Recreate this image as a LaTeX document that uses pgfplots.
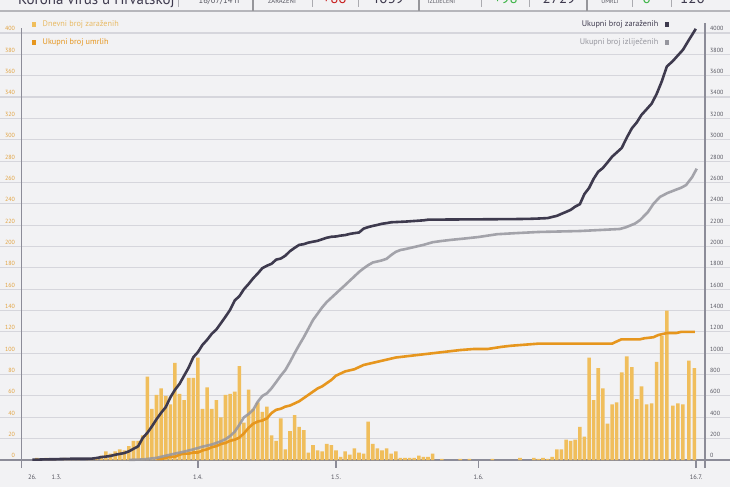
\documentclass[border=0pt]{standalone}
\usepackage{pgfplots}
\pgfplotsset{compat=1.18}
\usepackage{fontspec}
\setmainfont{PT Sans}

\definecolor{bgc}{RGB}{242,242,244}
\definecolor{gridc}{RGB}{214,214,220}
\definecolor{axc}{RGB}{140,140,152}
\definecolor{barc}{RGB}{240,190,92}
\definecolor{deathc}{RGB}{230,150,30}
\definecolor{casec}{RGB}{62,58,78}
\definecolor{recc}{RGB}{150,150,158}
\definecolor{ltc}{RGB}{226,162,62}
\definecolor{rtc}{RGB}{85,85,95}
\definecolor{legbar}{RGB}{232,186,100}
\definecolor{hred}{RGB}{200,30,30}
\definecolor{hgreen}{RGB}{60,180,70}

\begin{document}
\begin{tikzpicture}[x=1pt,y=1pt]
\useasboundingbox (0,0) rectangle (730,487);
\clip (0,0) rectangle (730,487);
\fill[bgc] (0,0) rectangle (730,487);

% grid lines over the full width
\foreach \k in {1,...,20}{
  \draw[gridc, line width=1.1pt] (0,{27+21.35*\k}) -- (730,{27+21.35*\k});
}
\draw[axc, line width=1.2pt] (0,27) -- (730,27);

% header (cut off at the top)
\draw[gridc!85!black, line width=1.4pt] (0,476) -- (730,476);
\foreach \xx in {178,312,358,481,529,632,671}{
  \draw[gridc!80!black, line width=1pt] (\xx,487) -- (\xx,480);
}
\foreach \xx in {253,419,587}{
  \draw[gridc!70!black, line width=1.6pt] (\xx,487) -- (\xx,476);
}
\node[anchor=base west, inner sep=0pt, text=casec, font=\fontsize{15}{16}\selectfont] at (18,482) {Korona virus u Hrvatskoj};
\node[anchor=base, inner sep=0pt, text=rtc, font=\fontsize{8.5}{10}\selectfont] at (219,483.5) {16/07/14 h};
\node[anchor=base, inner sep=0pt, text=rtc, font=\fontsize{6.5}{7}\selectfont] at (282,483) {ZARAŽENI};
\node[anchor=base, inner sep=0pt, text=hred, font=\fontsize{15}{17}\selectfont] at (334.7,483) {+86};
\node[anchor=base, inner sep=0pt, text=casec, font=\fontsize{15}{17}\selectfont] at (387.5,483) {4039};
\node[anchor=base, inner sep=0pt, text=rtc, font=\fontsize{6}{7}\selectfont] at (441.5,483) {IZLIJEČENI};
\node[anchor=base, inner sep=0pt, text=hgreen, font=\fontsize{15}{17}\selectfont] at (505.8,483) {+98};
\node[anchor=base, inner sep=0pt, text=casec, font=\fontsize{15}{17}\selectfont] at (559,483) {2729};
\node[anchor=base, inner sep=0pt, text=rtc, font=\fontsize{6}{7}\selectfont] at (610,483) {UMRLI};
\node[anchor=base, inner sep=0pt, text=hgreen, font=\fontsize{15}{17}\selectfont] at (646.7,483) {0};
\node[anchor=base, inner sep=0pt, text=casec, font=\fontsize{15}{17}\selectfont] at (692.5,483) {120};

% axis frame lines and x tick marks
\draw[axc, line width=1.2pt] (21.7,19) -- (21.7,459);
\draw[axc, line width=1.2pt] (705,19) -- (705,464);
\foreach \xx in {198,336,478.3,696}{
  \draw[axc, line width=1.2pt] (\xx,27) -- (\xx,19);
}

% legends
\fill[barc] (31.7,460.3) rectangle (36.2,464.8);
\node[anchor=west, inner sep=0pt, text=legbar, font=\fontsize{8.2}{9}\selectfont] at (42.5,462.3) {Dnevni broj zaraženih};
\fill[deathc] (31.7,442.3) rectangle (36.2,446.8);
\node[anchor=west, inner sep=0pt, text=deathc, font=\fontsize{8.2}{9}\selectfont] at (42.5,444.3) {Ukupni broj umrlih};
\fill[casec] (664.5,460.3) rectangle (669,464.8);
\node[anchor=east, inner sep=0pt, text=casec, font=\fontsize{8.2}{9}\selectfont] at (658.5,462.3) {Ukupni broj zaraženih};
\fill[recc] (664.5,442.3) rectangle (669,446.8);
\node[anchor=east, inner sep=0pt, text=recc, font=\fontsize{8.2}{9}\selectfont] at (658.5,444.3) {Ukupni broj izliječenih};

% left axis: daily cases and deaths
\begin{axis}[
  at={(21.7pt,27pt)}, anchor=south west,
  scale only axis, width=683.3pt, height=427pt,
  xmin=-3.3, xmax=145.2, ymin=0, ymax=400,
  axis line style={draw=none},
  major tick length=0pt,
  xtick={35,65,96,143.3},
  xticklabels={1.4.,1.5.,1.6.,16.7.},
  extra x ticks={-1,4.3},
  extra x tick labels={26.,1.3.},
  xticklabel style={font=\fontsize{6.5}{7}\selectfont, text=rtc, anchor=base, inner sep=0pt, yshift=-19pt},
  ytick={0,20,...,400},
  yticklabel style={font=\fontsize{6}{7}\selectfont, text=ltc, anchor=south east, inner sep=0pt, xshift=-6.5pt, yshift=1.8pt},
  /pgf/number format/assume math mode=true,
  /pgf/number format/1000 sep={},
  clip=false,
]
\addplot[ybar, bar width=0.78, fill=barc, draw=none] coordinates {
(0,2) (2,2) (3,1) (4,1) (6,2) (7,1) (8,1) (9,1) (11,1) (12,1) (13,2) (14,4)
(15,8) (16,6) (17,8) (18,10) (19,9) (20,13) (21,18) (22,18) (23,23)
(24,78) (25,48) (26,61) (27,67) (28,60) (29,52) (30,91) (31,62) (32,56) (33,77) (34,77) (35,96)
(36,48) (37,68) (38,48) (39,56) (40,40) (41,61) (42,62) (43,64) (44,88) (45,35) (46,66)
(47,48) (48,54) (49,45) (50,50) (51,23) (52,18) (53,39) (54,10) (55,27) (56,42) (57,31) (58,28)
(59,7) (60,14) (61,9) (62,8) (63,15) (64,14) (65,9) (66,3) (67,8) (68,5) (69,11) (70,7) (71,6) (72,36)
(73,15) (74,11) (75,9) (76,11) (77,6) (78,8) (79,2) (80,2) (81,2) (82,2) (83,4) (84,3) (85,3) (86,6)
(88,1) (92,1) (94,1) (99,1) (105,2) (108,2) (109,1) (110,2) (111,1) (112,3)
(113,10) (114,10) (115,19) (116,18) (117,19) (118,31) (119,22) (120,96) (121,56) (122,86) (123,67)
(124,34) (125,52) (126,54) (127.1,82) (128.2,97) (129.3,87) (130.4,57) (131.4,69) (132.5,52)
(133.6,53) (134.7,92) (135.8,116) (136.9,140) (138.2,51) (139.3,53) (140.4,52) (141.7,93) (142.9,86)
};
\addplot[deathc, line width=2.6pt, line join=round] coordinates {
(26,1) (27,1) (28,2) (29,3) (30,3) (31,5) (32,6) (33,6) (34,7) (35,7) (36,9) (37,10) (38,12)
(39,13) (40,15) (41,16) (42,18) (43,19) (44,21) (45,25) (46,30) (47,34) (48,36) (49,37) (50,39)
(51,44) (52,47) (53,48) (54,50) (55,51) (56,53) (57,55) (58,58) (59,61) (60,64) (61,67) (62,69)
(63,72) (64,75) (65,79) (66,81) (67,83) (68,84) (69,85) (70,87) (71,89) (72,90) (73,91) (74,92)
(75,93) (76,94) (77,95) (78,96) (80,97) (82,98) (84,99) (86,100) (88,101) (90,102) (92,103)
(95,104) (98,104) (101,106) (103,107) (106,108) (109,109) (112,109) (125,109) (126,111) (127,113)
(131,113) (132,114) (134,115) (135,117) (136,118) (137,119) (139,119) (140,120) (143,120)
};
\end{axis}

% right axis: cumulative cases and recoveries
\begin{axis}[
  at={(21.7pt,27pt)}, anchor=south west,
  scale only axis, width=683.3pt, height=427pt,
  xmin=-3.3, xmax=145.2, ymin=0, ymax=4000,
  axis line style={draw=none},
  major tick length=0pt,
  xtick=\empty,
  ytick={0,200,...,4000},
  yticklabel pos=right,
  yticklabel style={font=\fontsize{6}{7}\selectfont, text=rtc, anchor=south west, inner sep=0pt, xshift=5pt, yshift=1.8pt},
  /pgf/number format/assume math mode=true,
  /pgf/number format/1000 sep={},
  clip=false,
]
\addplot[recc, opacity=0.85, line width=2.6pt, line join=round] coordinates {
(20,1) (23,5) (25,15) (26,20) (28,40) (30,60) (32,78) (34,100) (36,125) (38,145) (40,175)
(41,195) (42,225) (43,265) (44,330) (45,400) (46,430) (47,470) (48,546) (49,600) (50,625)
(51,672) (52,730) (53,790) (54,843) (55,918) (56,1000) (57,1077) (58,1150) (59,1230) (60,1311)
(61,1370) (62,1430) (63,1480) (64,1520) (65,1560) (66,1600) (67,1639) (68,1680) (69,1720)
(70,1761) (71,1795) (72,1825) (73,1850) (74,1860) (75,1870) (76,1885) (77,1920) (78,1950)
(79,1967) (80,1975) (81,1985) (82,1995) (84,2015) (86,2040) (88,2052) (90,2062) (93,2075)
(96,2089) (100,2115) (104,2125) (109,2136) (118,2145) (126.7,2164) (128,2180) (130,2215)
(131.1,2248) (132.8,2323) (134,2400) (135.4,2464) (137,2500) (138.7,2529) (140,2550)
(141.1,2576) (142.4,2650) (143.4,2729)
};
\addplot[casec, line width=2.6pt, line join=round] coordinates {
(-1,3) (0,3) (1,5) (2,6) (3,7) (4,7) (5,9) (6,10) (7,11) (8,12) (11,12) (12,13) (13,19) (14,27)
(15,32) (16,38) (17,49) (18,57) (19,65) (20,81) (21,105) (22,128) (23,206) (24,254) (25,315)
(26,382) (27,442) (28,495) (29,586) (30,657) (31,713) (32,790) (33,867) (34,963) (35,1011)
(36,1079) (37,1126) (38,1182) (39,1222) (40,1282) (41,1343) (42,1407) (43,1495) (44,1534)
(45,1600) (46,1648) (47,1702) (48,1747) (49,1797) (50,1820) (51,1838) (52,1877) (53,1887)
(54,1914) (55,1956) (56,1987) (57,2015) (58,2022) (59,2036) (60,2045) (61,2053) (62,2068)
(63,2082) (64,2091) (65,2094) (66,2102) (67,2107) (68,2118) (69,2125) (70,2131) (71,2167)
(72,2182) (73,2193) (74,2202) (75,2213) (76,2219) (77,2227) (78,2229) (80,2233) (82,2239)
(83,2242) (84,2245) (85,2251) (87,2252) (91,2253) (93,2254) (98,2255) (104,2257) (107,2259)
(109,2262) (111,2266) (112,2277) (113,2287) (114,2306) (115,2324) (116,2343) (117,2374)
(118,2396) (119,2492) (120,2548) (121,2634) (122,2701) (123,2735) (124,2787) (125,2841)
(127.1,2923) (128.2,3020) (129.3,3107) (130.4,3164) (131.4,3233) (132.5,3285) (133.6,3338)
(134.7,3430) (135.8,3546) (136.9,3686) (138.2,3737) (139.3,3790) (140.4,3842) (141.7,3935)
(143.2,4039)
};
\end{axis}
\end{tikzpicture}
\end{document}
